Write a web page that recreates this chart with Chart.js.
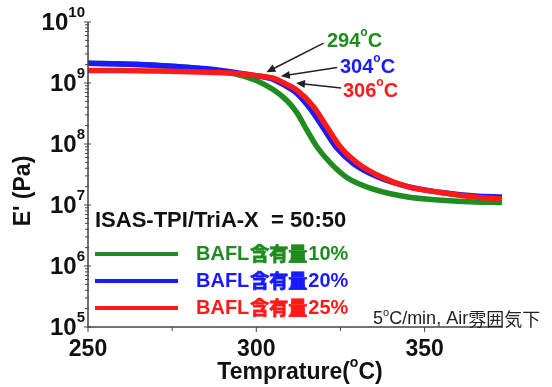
<!DOCTYPE html>
<html>
<head>
<meta charset="utf-8">
<script src="https://cdn.jsdelivr.net/npm/chart.js@4.4.0/dist/chart.umd.min.js"></script>
<style>
  html, body { margin: 0; padding: 0; background: #fff; }
  #wrap { width: 552px; height: 387px; }
</style>
</head>
<body>
<div id="wrap"><canvas id="dmaChart" width="552" height="387"></canvas></div>
<script>
// E' (Pa) vs temperature
const tempGreen = [250, 260, 270, 280, 288, 295, 300, 305, 309, 312, 315, 318, 322, 327, 335, 345, 355, 365, 373];
const modGreen = [2.1e9, 2.05e9, 1.95e9, 1.8e9, 1.6e9, 1.35e9, 1.1e9, 7.8e8, 5.2e8, 3.3e8, 1.7e8, 9.0e7, 4.9e7, 2.8e7, 1.8e7, 1.35e7, 1.2e7, 1.12e7, 1.1e7];

const tempBlue = [250, 260, 270, 280, 288, 295, 300, 305, 309, 312, 316, 320, 324, 329, 336, 345, 355, 365, 373];
const modBlue = [2.1e9, 2.05e9, 1.95e9, 1.8e9, 1.65e9, 1.45e9, 1.32e9, 1.15e9, 8.8e8, 6.8e8, 3.8e8, 1.8e8, 8.5e7, 4.7e7, 2.9e7, 2.0e7, 1.6e7, 1.4e7, 1.35e7];

const tempRed = [250, 260, 270, 280, 288, 295, 300, 305, 309, 312, 317, 321, 325, 330, 337, 345, 355, 365, 373];
const modRed = [1.6e9, 1.6e9, 1.57e9, 1.53e9, 1.48e9, 1.42e9, 1.32e9, 1.2e9, 9.5e8, 7.7e8, 4.1e8, 1.9e8, 8.9e7, 4.9e7, 2.9e7, 2.0e7, 1.6e7, 1.35e7, 1.25e7];

const seriesNames = ["BAFL含有量10%", "BAFL含有量20%", "BAFL含有量25%"];
const namePrefix = "BAFL";
const nameCjk = "含有量";
const nameSuffix = ["10%", "20%", "25%"];
const seriesColors = ["#1e8c1e", "#1a1aff", "#ff1a1a"];

// onset temperatures with arrow tip / tail (data coords)
const onsetLabels = ["294", "304", "306"];
const onsetTips = [[303, 1.5e9], [307.3, 1.29e9], [311.8, 1.0e9]];
const onsetTails = [[320, 4.5e9], [324, 1.8e9], [325.2, 8.3e8]];

const xTicks = [250, 300, 350];
const xMinor = [275, 325];
const yExps = [5, 6, 7, 8, 9, 10];

const FONT = "'Liberation Sans', Arial, sans-serif";
const CJK = "'Noto Sans CJK JP', sans-serif";

function toPts(xs, ys) {
  return xs.map((x, i) => ({ x: x, y: ys[i] }));
}

// draws "base" with a raised superscript (and optional tail), returns width
function drawSup(ctx, base, sup, x, y, size, supSize, align, after) {
  ctx.font = "bold " + size + "px " + FONT;
  const w1 = ctx.measureText(base).width;
  ctx.font = "bold " + supSize + "px " + FONT;
  const w2 = ctx.measureText(sup).width;
  let w3 = 0;
  if (after) {
    ctx.font = "bold " + size + "px " + FONT;
    w3 = ctx.measureText(after).width;
  }
  const total = w1 + w2 + w3;
  let x0 = x;
  if (align === "right") x0 = x - total;
  if (align === "center") x0 = x - total / 2;
  ctx.textAlign = "left";
  ctx.textBaseline = "middle";
  ctx.font = "bold " + size + "px " + FONT;
  ctx.fillText(base, x0, y);
  ctx.font = "bold " + supSize + "px " + FONT;
  ctx.fillText(sup, x0 + w1, y - size * 0.42);
  if (after) {
    ctx.font = "bold " + size + "px " + FONT;
    ctx.fillText(after, x0 + w1 + w2, y);
  }
  return total;
}

const decoPlugin = {
  id: "deco",
  afterDatasetsDraw(chart) {
    const ctx = chart.ctx;
    const xs = chart.scales.x;
    const ys = chart.scales.y;
    const area = chart.chartArea;
    ctx.save();

    // axis lines
    ctx.strokeStyle = "#444";
    ctx.lineWidth = 1.5;
    ctx.beginPath();
    ctx.moveTo(area.left, area.top);
    ctx.lineTo(area.left, area.bottom);
    ctx.lineTo(area.right, area.bottom);
    ctx.stroke();

    // y ticks, major + log minor
    ctx.lineWidth = 1;
    yExps.forEach((e) => {
      const py = ys.getPixelForValue(Math.pow(10, e));
      ctx.beginPath();
      ctx.moveTo(area.left - 4, py);
      ctx.lineTo(area.left + 3, py);
      ctx.stroke();
      if (e < 10) {
        for (let m = 2; m <= 9; m++) {
          const pm = ys.getPixelForValue(m * Math.pow(10, e));
          ctx.beginPath();
          ctx.moveTo(area.left - 3, pm);
          ctx.lineTo(area.left + 1, pm);
          ctx.stroke();
        }
      }
    });
    // x ticks
    xTicks.forEach((t) => {
      const px = xs.getPixelForValue(t);
      ctx.beginPath();
      ctx.moveTo(px, area.bottom);
      ctx.lineTo(px, area.bottom + 5);
      ctx.stroke();
    });
    xMinor.forEach((t) => {
      const px = xs.getPixelForValue(t);
      ctx.beginPath();
      ctx.moveTo(px, area.bottom);
      ctx.lineTo(px, area.bottom + 4);
      ctx.stroke();
    });

    // tick labels
    ctx.fillStyle = "#111";
    yExps.forEach((e) => {
      const py = ys.getPixelForValue(Math.pow(10, e));
      drawSup(ctx, "10", String(e), area.left - 3, py + 1, 24, 15, "right");
    });
    ctx.font = "bold 23px " + FONT;
    ctx.textAlign = "center";
    ctx.textBaseline = "middle";
    xTicks.forEach((t) => {
      ctx.fillText(String(t), xs.getPixelForValue(t), area.bottom + 23);
    });

    // axis titles
    drawSup(ctx, "Temprature(", "o", 300, area.bottom + 46, 23, 14, "center", "C)");
    ctx.save();
    ctx.translate(24, 191);
    ctx.rotate(-Math.PI / 2);
    ctx.font = "bold 23px " + FONT;
    ctx.textAlign = "center";
    ctx.textBaseline = "middle";
    ctx.fillText("E' (Pa)", 0, 0);
    ctx.restore();

    // onset arrows
    ctx.strokeStyle = "#222";
    ctx.fillStyle = "#222";
    ctx.lineWidth = 1.5;
    onsetTips.forEach((tip, i) => {
      const tx = xs.getPixelForValue(tip[0]);
      const ty = ys.getPixelForValue(tip[1]);
      const sx = xs.getPixelForValue(onsetTails[i][0]);
      const sy = ys.getPixelForValue(onsetTails[i][1]);
      const ang = Math.atan2(ty - sy, tx - sx);
      ctx.beginPath();
      ctx.moveTo(sx, sy);
      ctx.lineTo(tx - 6 * Math.cos(ang), ty - 6 * Math.sin(ang));
      ctx.stroke();
      ctx.beginPath();
      ctx.moveTo(tx, ty);
      ctx.lineTo(tx - 9 * Math.cos(ang) + 4 * Math.sin(ang), ty - 9 * Math.sin(ang) - 4 * Math.cos(ang));
      ctx.lineTo(tx - 9 * Math.cos(ang) - 4 * Math.sin(ang), ty - 9 * Math.sin(ang) + 4 * Math.cos(ang));
      ctx.closePath();
      ctx.fill();
    });
    const labelPos = [[327, 41], [340, 67], [343, 91]];
    onsetLabels.forEach((t, i) => {
      ctx.fillStyle = seriesColors[i];
      drawSup(ctx, t, "o", labelPos[i][0], labelPos[i][1], 20, 12, "left", "C");
    });

    // legend block
    ctx.fillStyle = "#111";
    ctx.font = "bold 22px " + FONT;
    ctx.textAlign = "left";
    ctx.textBaseline = "middle";
    ctx.fillText("ISAS-TPI/TriA-X  = 50:50", 95, 221);
    const legY = [254, 281, 308];
    seriesNames.forEach((name, i) => {
      ctx.strokeStyle = seriesColors[i];
      ctx.lineWidth = 4;
      ctx.beginPath();
      ctx.moveTo(95, legY[i]);
      ctx.lineTo(178, legY[i]);
      ctx.stroke();
      ctx.fillStyle = seriesColors[i];
      let px = 196;
      ctx.font = "bold 20px " + FONT;
      ctx.fillText(namePrefix, px, legY[i]);
      px += ctx.measureText(namePrefix).width + 1;
      ctx.font = "bold 19px " + CJK;
      ctx.lineWidth = 0.8;
      ctx.fillText(nameCjk, px, legY[i]);
      ctx.strokeText(nameCjk, px, legY[i]);
      px += ctx.measureText(nameCjk).width + 1;
      ctx.font = "bold 20px " + FONT;
      ctx.fillText(nameSuffix[i], px, legY[i]);
    });

    // condition note
    ctx.fillStyle = "#222";
    ctx.font = "18px " + FONT;
    const w1 = ctx.measureText("5").width;
    ctx.fillText("5", 373, 319);
    ctx.font = "11px " + FONT;
    const w2 = ctx.measureText("o").width;
    ctx.fillText("o", 373 + w1, 313);
    ctx.font = "18px " + FONT;
    const w3 = ctx.measureText("C/min, Air").width;
    ctx.fillText("C/min, Air", 373 + w1 + w2, 319);
    ctx.font = "18px " + CJK;
    ctx.fillText("雰囲気下", 373 + w1 + w2 + w3, 319);

    ctx.restore();
  }
};

const datasets = [
  { data: toPts(tempGreen, modGreen), order: 3 },
  { data: toPts(tempBlue, modBlue), order: 2 },
  { data: toPts(tempRed, modRed), order: 1 }
].map((d, i) => ({
  label: seriesNames[i],
  data: d.data,
  order: d.order,
  borderColor: seriesColors[i],
  backgroundColor: seriesColors[i],
  borderWidth: 5.5,
  pointRadius: 0,
  cubicInterpolationMode: "monotone",
  fill: false
}));

new Chart(document.getElementById("dmaChart"), {
  type: "line",
  data: { datasets: datasets },
  plugins: [decoPlugin],
  options: {
    responsive: false,
    animation: false,
    layout: { padding: { top: 22, right: 50, left: 0, bottom: 0 } },
    plugins: { legend: { display: false }, tooltip: { enabled: false } },
    scales: {
      x: {
        type: "linear",
        min: 250,
        max: 373,
        grid: { display: false },
        border: { display: false },
        ticks: { display: false },
        afterFit: (s) => { s.height = 60; }
      },
      y: {
        type: "logarithmic",
        min: 1e5,
        max: 1e10,
        grid: { display: false },
        border: { display: false },
        ticks: { display: false },
        afterFit: (s) => { s.width = 88; }
      }
    }
  }
});
</script>
</body>
</html>
